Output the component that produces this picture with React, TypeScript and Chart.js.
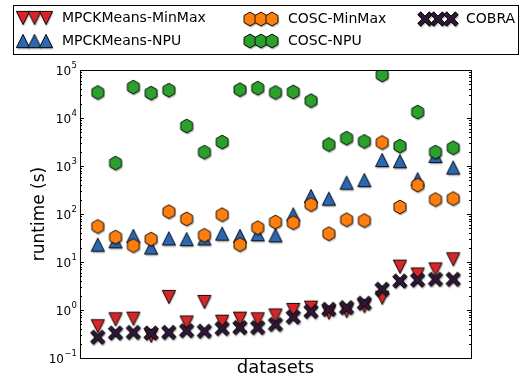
import React, { useEffect, useRef } from 'react';
import { Chart, registerables } from 'chart.js';
Chart.register(...registerables);

const datasetIndex = [0, 1, 2, 3, 4, 5, 6, 7, 8, 9, 10, 11, 12, 13, 14, 15, 16, 17, 18, 19, 20];
const mpckMinMax = [0.46, 0.64, 0.66, 0.29, 1.87, 0.55, 1.47, 0.57, 0.66, 0.64, 0.77, 1.0, 1.12, 0.88, 0.95, 1.2, 1.8, 8, 5.5, 7, 11.4];
const mpckNPU = [23, 27, 35, 20, 31, 30, 31, 39, 35, 38, 36, 98, 237, 209, 450, 510, 1330, 1260, 530, 1620, 930];
const coscMinMax = [55, 33, 22, 30, 112, 79, 36, 97, 23, 52, 68, 66, 157, 39, 76, 73, 3090, 140, 400, 200, 210];
const coscNPU = [34000, 1150, 44000, 33000, 38000, 6800, 1940, 3160, 39000, 42000, 34000, 35000, 23000, 2800, 3800, 3250, 79000, 2600, 13300, 1950, 2400];
const cobra = [0.27, 0.33, 0.34, 0.33, 0.34, 0.37, 0.36, 0.41, 0.43, 0.43, 0.5, 0.71, 0.93, 1.03, 1.12, 1.38, 2.7, 4.0, 4.2, 4.35, 4.35];
const yTickValues = [0.1, 1, 10, 100, 1000, 10000, 100000];
const yTickExponents = ['\u22121', '0', '1', '2', '3', '4', '5'];
const seriesNames = ['MPCKMeans-MinMax', 'MPCKMeans-NPU', 'COSC-MinMax', 'COSC-NPU', 'COBRA'];
const seriesColors = ['#d62728', '#2c67b1', '#ff7f0e', '#2ca02c', '#2d1834'];

type Shape = 'down' | 'up' | 'hex' | 'x';

function shapePath(ctx: CanvasRenderingContext2D, shape: Shape) {
  ctx.beginPath();
  if (shape === 'up' || shape === 'down') {
    const s = 6.6;
    const d = shape === 'up' ? 1 : -1;
    ctx.moveTo(0, -s * d);
    ctx.lineTo(-s, s * d);
    ctx.lineTo(s, s * d);
  } else if (shape === 'hex') {
    const r = 6.9;
    for (let k = 0; k < 6; k++) {
      const a = (-90 + 60 * k) * Math.PI / 180;
      const px = r * Math.cos(a);
      const py = r * Math.sin(a);
      if (k === 0) ctx.moveTo(px, py); else ctx.lineTo(px, py);
    }
  } else {
    const s = 7.2;
    const d = 2.9;
    const pts = [
      [0, -d], [s - d, -s], [s, -s + d], [d, 0], [s, s - d], [s - d, s],
      [0, d], [-s + d, s], [-s, s - d], [-d, 0], [-s, -s + d], [-s + d, -s],
    ];
    pts.forEach((p, i) => (i === 0 ? ctx.moveTo(p[0], p[1]) : ctx.lineTo(p[0], p[1])));
  }
  ctx.closePath();
}

function makeSprite(shape: Shape, color: string): HTMLCanvasElement {
  const c = document.createElement('canvas');
  c.width = 26;
  c.height = 26;
  const ctx = c.getContext('2d')!;
  ctx.translate(13, 13);
  ctx.save();
  ctx.shadowColor = 'rgba(0,0,0,0.35)';
  ctx.shadowOffsetX = 0.8;
  ctx.shadowOffsetY = 1.6;
  ctx.shadowBlur = 1.2;
  shapePath(ctx, shape);
  ctx.fillStyle = color;
  ctx.fill();
  ctx.restore();
  shapePath(ctx, shape);
  ctx.fillStyle = color;
  ctx.fill();
  ctx.lineWidth = 0.9;
  ctx.strokeStyle = '#000';
  ctx.lineJoin = 'miter';
  ctx.stroke();
  return c;
}

export default function App() {
  const ref = useRef<HTMLCanvasElement>(null);
  useEffect(() => {
    const shapes: Shape[] = ['down', 'up', 'hex', 'hex', 'x'];
    const sprites = shapes.map((s, i) => makeSprite(s, seriesColors[i]));
    const values = [mpckMinMax, mpckNPU, coscMinMax, coscNPU, cobra];
    const orders = [4, 3, 2, 1, 0];

    const decor = {
      id: 'decor',
      afterDatasetsDraw(chart: any) {
        const { ctx, chartArea: a } = chart;
        const y = chart.scales.y;
        ctx.save();
        ctx.strokeStyle = '#000';
        ctx.lineWidth = 1;
        ctx.strokeRect(Math.round(a.left) + 0.5, Math.round(a.top) + 0.5, Math.round(a.right - a.left), Math.round(a.bottom - a.top));
        for (let e = -1; e < 5; e++) {
          for (let k = 1; k <= 9; k++) {
            const v = k * Math.pow(10, e);
            const py = Math.round(y.getPixelForValue(v)) + 0.5;
            const len = k === 1 ? 4 : 2;
            ctx.beginPath();
            ctx.moveTo(a.left, py);
            ctx.lineTo(a.left + len, py);
            ctx.moveTo(a.right, py);
            ctx.lineTo(a.right - len, py);
            ctx.stroke();
          }
        }
        ctx.restore();
      },
      afterDraw(chart: any) {
        const { ctx, chartArea: a } = chart;
        const y = chart.scales.y;
        ctx.save();
        ctx.fillStyle = '#000';
        // y tick labels with superscript exponents
        ctx.textBaseline = 'middle';
        ctx.textAlign = 'right';
        yTickValues.forEach((v, i) => {
          const py = y.getPixelForValue(v);
          const right = a.left - 3;
          ctx.font = "8.5px 'DejaVu Sans'";
          const ew = ctx.measureText(yTickExponents[i]).width;
          ctx.fillText(yTickExponents[i], right, py - 4.5);
          ctx.font = "12px 'DejaVu Sans'";
          ctx.fillText('10', right - ew - 0.5, py + 1.5);
        });
        // axis titles
        ctx.font = "18px 'DejaVu Sans'";
        ctx.textAlign = 'center';
        ctx.textBaseline = 'middle';
        ctx.fillText('datasets', (a.left + a.right) / 2, 368);
        ctx.save();
        ctx.translate(40, (a.top + a.bottom) / 2);
        ctx.rotate(-Math.PI / 2);
        ctx.font = "17px 'DejaVu Sans'";
        ctx.fillText('runtime (s)', 0, 0);
        ctx.restore();
        // legend
        ctx.strokeStyle = '#000';
        ctx.lineWidth = 1;
        ctx.strokeRect(13.5, 5.5, 505, 49);
        const entries = [
          { i: 0, xs: [23, 34.5, 46], y: 18, tx: 62 },
          { i: 1, xs: [23, 34.5, 46], y: 41, tx: 62 },
          { i: 2, xs: [250, 261, 272], y: 19, tx: 288 },
          { i: 3, xs: [250, 261, 272], y: 41, tx: 288 },
          { i: 4, xs: [425, 438, 451], y: 19, tx: 466 },
        ];
        ctx.font = "14px 'DejaVu Sans'";
        ctx.textAlign = 'left';
        ctx.textBaseline = 'middle';
        entries.forEach((en) => {
          const sp = sprites[en.i];
          en.xs.forEach((x) => ctx.drawImage(sp, x - 13, en.y - 13));
          ctx.fillStyle = '#000';
          ctx.fillText(seriesNames[en.i], en.tx, en.y);
        });
        ctx.restore();
      },
    };

    const chart = new Chart(ref.current!, {
      type: 'scatter',
      data: {
        datasets: values.map((vals, i) => ({
          label: seriesNames[i],
          data: datasetIndex.map((x, j) => ({ x, y: vals[j] })),
          pointStyle: sprites[i] as any,
          pointRadius: 7,
          pointHoverRadius: 7,
          backgroundColor: seriesColors[i],
          borderColor: '#000',
          showLine: false,
          order: orders[i],
        })),
      },
      options: {
        animation: false,
        responsive: false,
        devicePixelRatio: 1,
        events: [],
        layout: { padding: { top: 70, right: 53, bottom: 21, left: 0 } },
        plugins: { legend: { display: false }, tooltip: { enabled: false } },
        scales: {
          x: { type: 'linear', min: -1, max: 21, display: false },
          y: {
            type: 'logarithmic',
            min: 0.1,
            max: 100000,
            grid: { display: false, drawTicks: false },
            border: { display: false },
            afterBuildTicks: (s: any) => {
              s.ticks = yTickValues.map((v) => ({ value: v }));
            },
            afterFit: (s: any) => {
              s.width = 80;
            },
            ticks: {
              padding: 3,
              color: 'rgba(0,0,0,0)',
              font: { family: "'DejaVu Sans'", size: 12 },
            },
          },
        },
      },
      plugins: [decor],
    } as any);
    return () => chart.destroy();
  }, []);
  return (
    <div style={{ position: 'fixed', left: 0, top: 0, width: 524, height: 379, background: '#fff' }}>
      <canvas ref={ref} width={524} height={379} style={{ display: 'block', width: 524, height: 379 }} />
    </div>
  );
}
